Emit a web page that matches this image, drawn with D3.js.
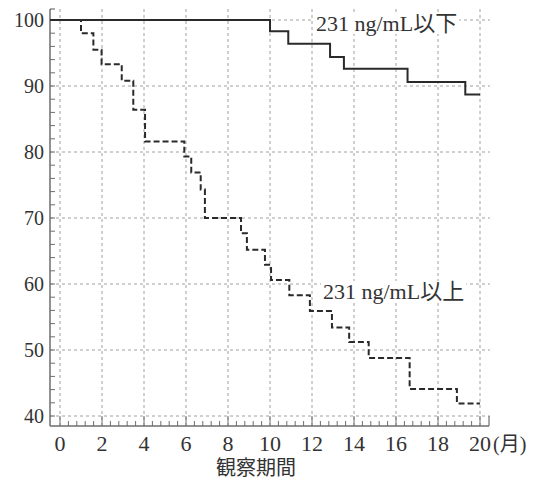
<!DOCTYPE html>
<html>
<head>
<meta charset="utf-8">
<script src="https://cdn.jsdelivr.net/npm/d3@7"></script>
<style>
  html, body { margin: 0; padding: 0; background: #fff; }
  svg { display: block; }
  text { font-family: "Liberation Serif", "DejaVu Serif", "Noto Sans CJK JP", serif; fill: #333; }
</style>
</head>
<body>
<svg id="chart" width="539" height="480"></svg>
<script>
// ---- data ----
const xTicks = [0, 2, 4, 6, 8, 10, 12, 14, 16, 18, 20];
const yTicks = [40, 50, 60, 70, 80, 90, 100];
const xUnit = "(月)";
const xTitle = "観察期間";

const lowLabel = "231 ng/mL以下";
const lowTimes = [0, 10.0, 10.87, 12.86, 13.52, 16.55, 19.3, 20.0];
const lowSurv  = [100, 98.3, 96.4, 94.4, 92.6, 90.6, 88.7, 88.7];

const highLabel = "231 ng/mL以上";
const highTimes = [0, 1.0, 1.59, 1.98, 2.94, 3.49, 4.05, 5.92, 6.25, 6.7, 6.9, 8.62, 8.9, 9.76, 10.05, 10.92, 11.9, 12.95, 13.77, 14.7, 16.65, 18.9, 20.0];
const highSurv  = [100, 98.0, 95.5, 93.3, 90.8, 86.4, 81.6, 79.3, 76.9, 74.3, 70.0, 67.7, 65.2, 62.9, 60.6, 58.3, 55.9, 53.4, 51.2, 48.8, 44.1, 41.9, 41.9];

(function () {
// ---- layout ----
const svg = d3.select("#chart");
svg.append("rect").attr("width", 539).attr("height", 480).attr("fill", "#fff");

const x = d3.scaleLinear().domain([0, 20]).range([60, 480]);
const y = d3.scaleLinear().domain([40, 100]).range([416, 20]);
const pL = 50, pR = 489, pT = 9, pB = 426;

const gridColor = "#a0a0a0";
const axisColor = "#6e6e6e";

// grid
const g = svg.append("g");
g.selectAll("line.vg").data(xTicks).join("line")
  .attr("x1", d => x(d)).attr("x2", d => x(d))
  .attr("y1", pT).attr("y2", pB)
  .attr("stroke", gridColor).attr("stroke-width", 1).attr("stroke-dasharray", "3,3");
g.selectAll("line.hg").data(yTicks).join("line")
  .attr("y1", d => y(d)).attr("y2", d => y(d))
  .attr("x1", pL).attr("x2", pR + 1)
  .attr("stroke", gridColor).attr("stroke-width", 1).attr("stroke-dasharray", "3,3");

// y axis
svg.append("line").attr("x1", pL).attr("x2", pL).attr("y1", pT).attr("y2", pB)
  .attr("stroke", axisColor).attr("stroke-width", 1.5);
svg.append("line").attr("x1", pL).attr("x2", pL + 5).attr("y1", pT).attr("y2", pT)
  .attr("stroke", axisColor).attr("stroke-width", 1.2);
const yMinor = d3.range(40, 101, 2);
svg.selectAll("line.ym").data(yMinor).join("line")
  .attr("x1", pL).attr("x2", pL + 5)
  .attr("y1", d => y(d)).attr("y2", d => y(d))
  .attr("stroke", axisColor).attr("stroke-width", 1);

// x axis
svg.append("line").attr("x1", pL).attr("x2", pR).attr("y1", pB).attr("y2", pB)
  .attr("stroke", axisColor).attr("stroke-width", 1.5);
svg.append("line").attr("x1", pR).attr("x2", pR).attr("y1", pB - 10).attr("y2", pB)
  .attr("stroke", axisColor).attr("stroke-width", 1.2);
const xMinor = d3.range(0, 51, 1).map(i => i * 0.4);
svg.selectAll("line.xm").data(xMinor).join("line")
  .attr("x1", d => x(d)).attr("x2", d => x(d))
  .attr("y1", pB).attr("y2", d => (Math.abs(d / 2 - Math.round(d / 2)) < 1e-6 ? pB - 10 : pB - 5))
  .attr("stroke", axisColor).attr("stroke-width", 1);

// tick labels
svg.selectAll("text.yl").data(yTicks).join("text")
  .attr("x", 44).attr("y", d => y(d) + 7)
  .attr("text-anchor", "end").attr("font-size", 20)
  .text(d => d);
svg.selectAll("text.xl").data(xTicks).join("text")
  .attr("x", d => x(d)).attr("y", 451)
  .attr("text-anchor", "middle").attr("font-size", 22)
  .text(d => d);
svg.append("text").attr("x", 493).attr("y", 451).attr("font-size", 20).text(xUnit);
svg.append("text").attr("x", 256).attr("y", 475).attr("text-anchor", "middle")
  .attr("font-size", 20).text(xTitle);

// curves
function pts(ts, ss) {
  return ts.map((t, i) => [i === 0 ? pL : x(t), y(ss[i])]);
}
const line = d3.line().curve(d3.curveStepAfter);
svg.append("path").attr("d", line(pts(highTimes, highSurv)))
  .attr("fill", "none").attr("stroke", "#2a2a2a").attr("stroke-width", 2)
  .attr("stroke-dasharray", "6,3");
svg.append("path").attr("d", line(pts(lowTimes, lowSurv)))
  .attr("fill", "none").attr("stroke", "#2a2a2a").attr("stroke-width", 2);

// curve labels with white backgrounds
function label(txt, x0, base) {
  const grp = svg.append("g");
  const r = grp.append("rect").attr("fill", "#fff");
  const t = grp.append("text").attr("x", x0).attr("y", base).attr("font-size", 22).text(txt);
  const bb = t.node().getBBox();
  r.attr("x", bb.x - 2).attr("y", bb.y + 2).attr("width", bb.width + 4).attr("height", bb.height - 4);
}
label(lowLabel, 316, 31);
label(highLabel, 323, 299);
})();
</script>
</body>
</html>
